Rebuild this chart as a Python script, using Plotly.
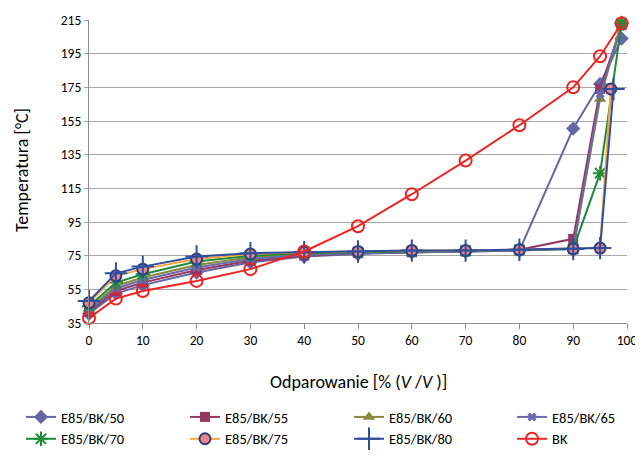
import plotly.graph_objects as go

# ---- data ----
x_std = [0, 5, 10, 20, 30, 40, 50, 60, 70, 80, 90, 95, 99]
x_75 = [0, 5, 10, 20, 30, 40, 50, 60, 70, 80, 90, 95, 97]
x_80 = [0, 5, 10, 20, 30, 40, 50, 60, 70, 80, 90, 95, 97.5]

e85_bk_50 = [40.5, 52.5, 57.5, 65, 71, 74.5, 76, 77, 77.5, 78, 150.5, 177, 204]
e85_bk_55 = [41.5, 54, 59, 66.5, 72, 75, 76.5, 77, 77.5, 78.5, 85, 174, 212]
e85_bk_60 = [43.5, 57, 62, 69.5, 74, 76, 77, 77.5, 78, 78.5, 79, 168, 214.5]
e85_bk_65 = [42.5, 55.5, 60.5, 68, 73, 75.5, 76.5, 77, 77.5, 78, 79, 171, 211]
e85_bk_70 = [45, 59, 64, 71.5, 75, 76.5, 77, 77.5, 78, 78.5, 79, 124, 213]
e85_bk_75 = [47, 63, 67, 73, 76, 77, 77.5, 78, 78, 78.5, 79, 79.5, 174]
e85_bk_80 = [48, 64.5, 68.5, 74.5, 76.5, 77, 77.5, 78, 78, 78.5, 79, 79.5, 174]
bk = [38, 49.5, 54, 60, 67, 77.5, 92.5, 111.5, 131.5, 152.5, 175, 193.5, 213]

y_ticks = [35, 55, 75, 95, 115, 135, 155, 175, 195, 215]
x_ticks = [0, 10, 20, 30, 40, 50, 60, 70, 80, 90, 100]

x_title = "Odparowanie [% (<i>V</i> /<i>V</i> )]"
y_title = "Temperatura [°C]"

FONT = "Carlito, Lato, 'Open Sans', sans-serif"

series = [
    ("E85/BK/50", x_std, e85_bk_50, "#6466A6", dict(symbol="diamond", size=11, color="#6466A6"), "legend"),
    ("E85/BK/55", x_std, e85_bk_55, "#93375E", dict(symbol="square", size=10, color="#93375E"), "legend2"),
    ("E85/BK/60", x_std, e85_bk_60, "#898A3B", dict(symbol="triangle-up", size=11, color="#898A3B"), "legend3"),
    ("E85/BK/65", x_std, e85_bk_65, "#6A6AAA", dict(symbol="x", size=8, color="#6A6AAA"), "legend4"),
    ("E85/BK/70", x_std, e85_bk_70, "#1F8A3A", dict(symbol="asterisk-open", size=12, color="#1F8A3A", line=dict(width=2, color="#1F8A3A")), "legend"),
    ("E85/BK/75", x_75, e85_bk_75, "#F7A53B", dict(symbol="circle", size=11, color="#EF8585", line=dict(width=2, color="#2C3C7C")), "legend2"),
    ("E85/BK/80", x_80, e85_bk_80, "#2E4E9E", dict(symbol="cross-thin-open", size=16, color="#2E4E9E", line=dict(width=2, color="#2E4E9E")), "legend3"),
    ("BK", x_std, bk, "#EE2424", dict(symbol="circle-open", size=12, color="#EE2424", line=dict(width=2, color="#EE2424")), "legend4"),
]

fig = go.Figure()
for name, xs, ys, col, mk, lg in series:
    fig.add_trace(go.Scatter(
        x=xs, y=ys, name=name, mode="lines+markers",
        line=dict(color=col, width=2), marker=mk, cliponaxis=False,
        legend=lg,
    ))

# page body has an 8px margin; figure sized to fit the 643x457 window
W, H, OFF = 635, 449, 8
LEG_Y = 1 - (401 - OFF) / H
leg_common = dict(
    orientation="v", xref="container", yref="container",
    y=LEG_Y, xanchor="left", yanchor="top",
    font=dict(family=FONT, size=14.5, color="#000000"),
    bgcolor="rgba(0,0,0,0)", tracegroupgap=0, traceorder="normal",
)
col_x = [21, 185, 349, 512]

fig.update_layout(
    width=W, height=H,
    margin=dict(l=89 - OFF, r=W - (627 - OFF), t=20 - OFF, b=H - (323 - OFF), autoexpand=False),
    paper_bgcolor="white", plot_bgcolor="white",
    font=dict(family=FONT, size=13.5, color="#000000"),
    showlegend=True,
    legend=dict(x=(col_x[0] - OFF) / W, **leg_common),
    legend2=dict(x=(col_x[1] - OFF) / W, **leg_common),
    legend3=dict(x=(col_x[2] - OFF) / W, **leg_common),
    legend4=dict(x=(col_x[3] - OFF) / W, **leg_common),
    xaxis=dict(
        range=[0, 100], tickvals=x_ticks, ticktext=[str(v) for v in x_ticks],
        showgrid=False, zeroline=False, automargin=False,
        showline=True, linecolor="#8C8C8C", linewidth=1,
        ticks="outside", ticklen=5, tickcolor="#8C8C8C",
        tickfont=dict(size=13.5),
    ),
    yaxis=dict(
        range=[35, 215], tickvals=y_ticks, ticktext=[str(v) for v in y_ticks],
        showgrid=True, gridcolor="#A6A6A6", gridwidth=1, zeroline=False, automargin=False,
        showline=True, linecolor="#8C8C8C", linewidth=1,
        ticks="outside", ticklen=4, tickcolor="#A6A6A6",
        tickfont=dict(size=13.5),
    ),
    annotations=[
        dict(text=x_title, xref="paper", yref="paper", x=0.5, y=(323 - 382) / 303,
             xanchor="center", yanchor="middle", showarrow=False,
             font=dict(family=FONT, size=18, color="#000000")),
        dict(text=y_title, xref="paper", yref="paper", x=(22 - 89) / 538, y=(323 - 170) / 303,
             xanchor="center", yanchor="middle", showarrow=False, textangle=-90,
             font=dict(family=FONT, size=18, color="#000000")),
    ],
)

fig.write_html("out.html")
